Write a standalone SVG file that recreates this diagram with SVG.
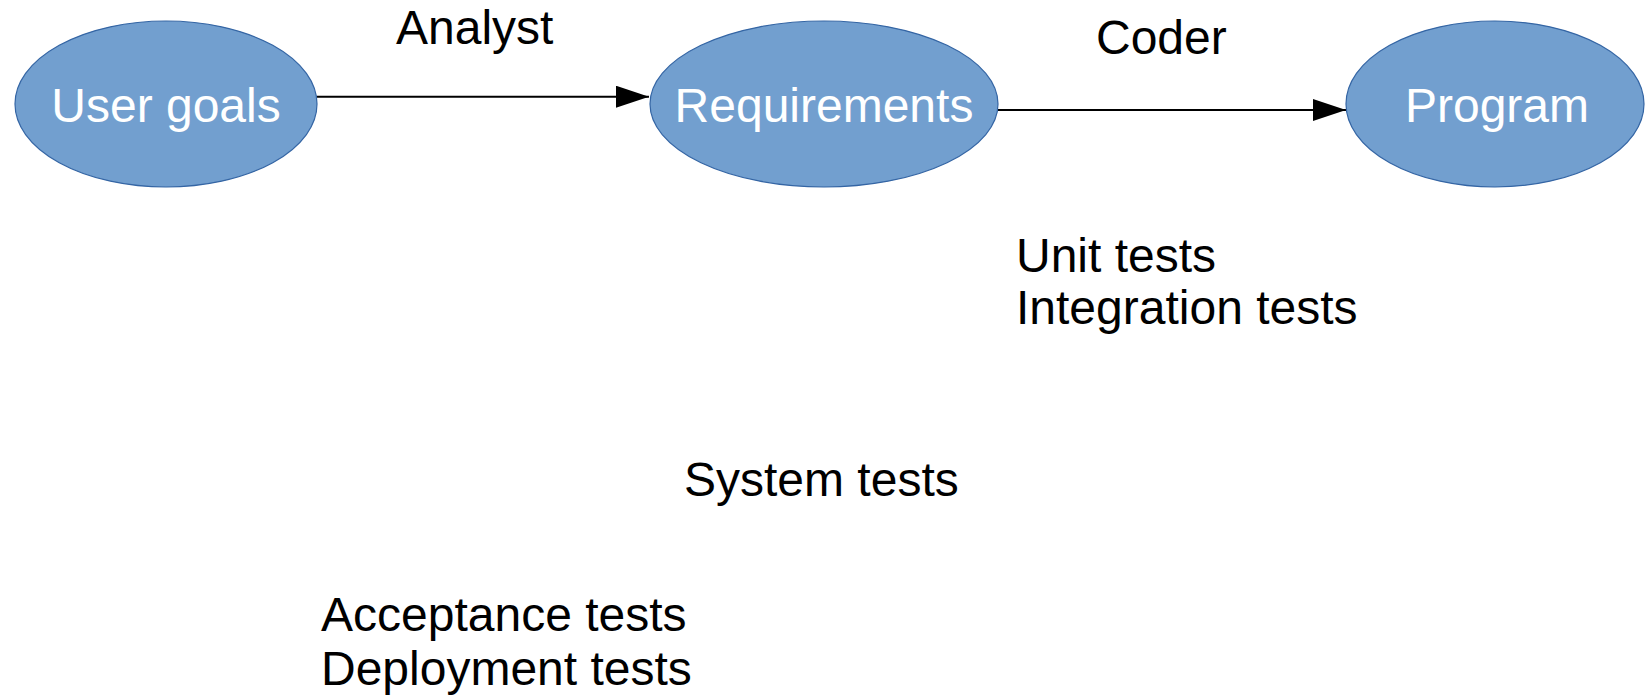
<svg xmlns="http://www.w3.org/2000/svg" width="1646" height="697" viewBox="0 0 1646 697">
<style>
.node ellipse{fill:#729fcf;stroke:#3465a4;stroke-width:1.2}
.node text{fill:#ffffff;font-family:"Liberation Sans",Arial,sans-serif;font-size:48px;text-anchor:middle}
.lbl{fill:#000000;font-family:"Liberation Sans",Arial,sans-serif;font-size:48px}
.conn line{stroke:#000000;stroke-width:2}
</style>
<defs>
<marker id="arr" markerUnits="userSpaceOnUse" markerWidth="34" markerHeight="24" refX="33" refY="11" orient="auto">
<path d="M0,0 L33,11 L0,22 Z" fill="#000000"/>
</marker>
</defs>
<rect width="1646" height="697" fill="#ffffff"/>
<g id="connectors" class="conn">
<line x1="317" y1="96.7" x2="649" y2="96.7" marker-end="url(#arr)"/>
<line x1="998" y1="110" x2="1346" y2="110" marker-end="url(#arr)"/>
</g>
<g id="user-goals" class="node">
<ellipse cx="166" cy="104" rx="151" ry="83"/>
<text x="166" y="122">User goals</text>
</g>
<g id="requirements" class="node">
<ellipse cx="824" cy="104" rx="174" ry="83"/>
<text x="824" y="122">Requirements</text>
</g>
<g id="program" class="node">
<ellipse cx="1495" cy="104" rx="149" ry="83"/>
<text x="1497" y="122">Program</text>
</g>
<g id="labels">
<text class="lbl" x="396" y="44">Analyst</text>
<text class="lbl" x="1096" y="54">Coder</text>
<text class="lbl" x="1016" y="272">Unit tests</text>
<text class="lbl" x="1016" y="324">Integration tests</text>
<text class="lbl" x="684" y="496">System tests</text>
<text class="lbl" x="321" y="631">Acceptance tests</text>
<text class="lbl" x="321" y="685">Deployment tests</text>
</g>
</svg>
